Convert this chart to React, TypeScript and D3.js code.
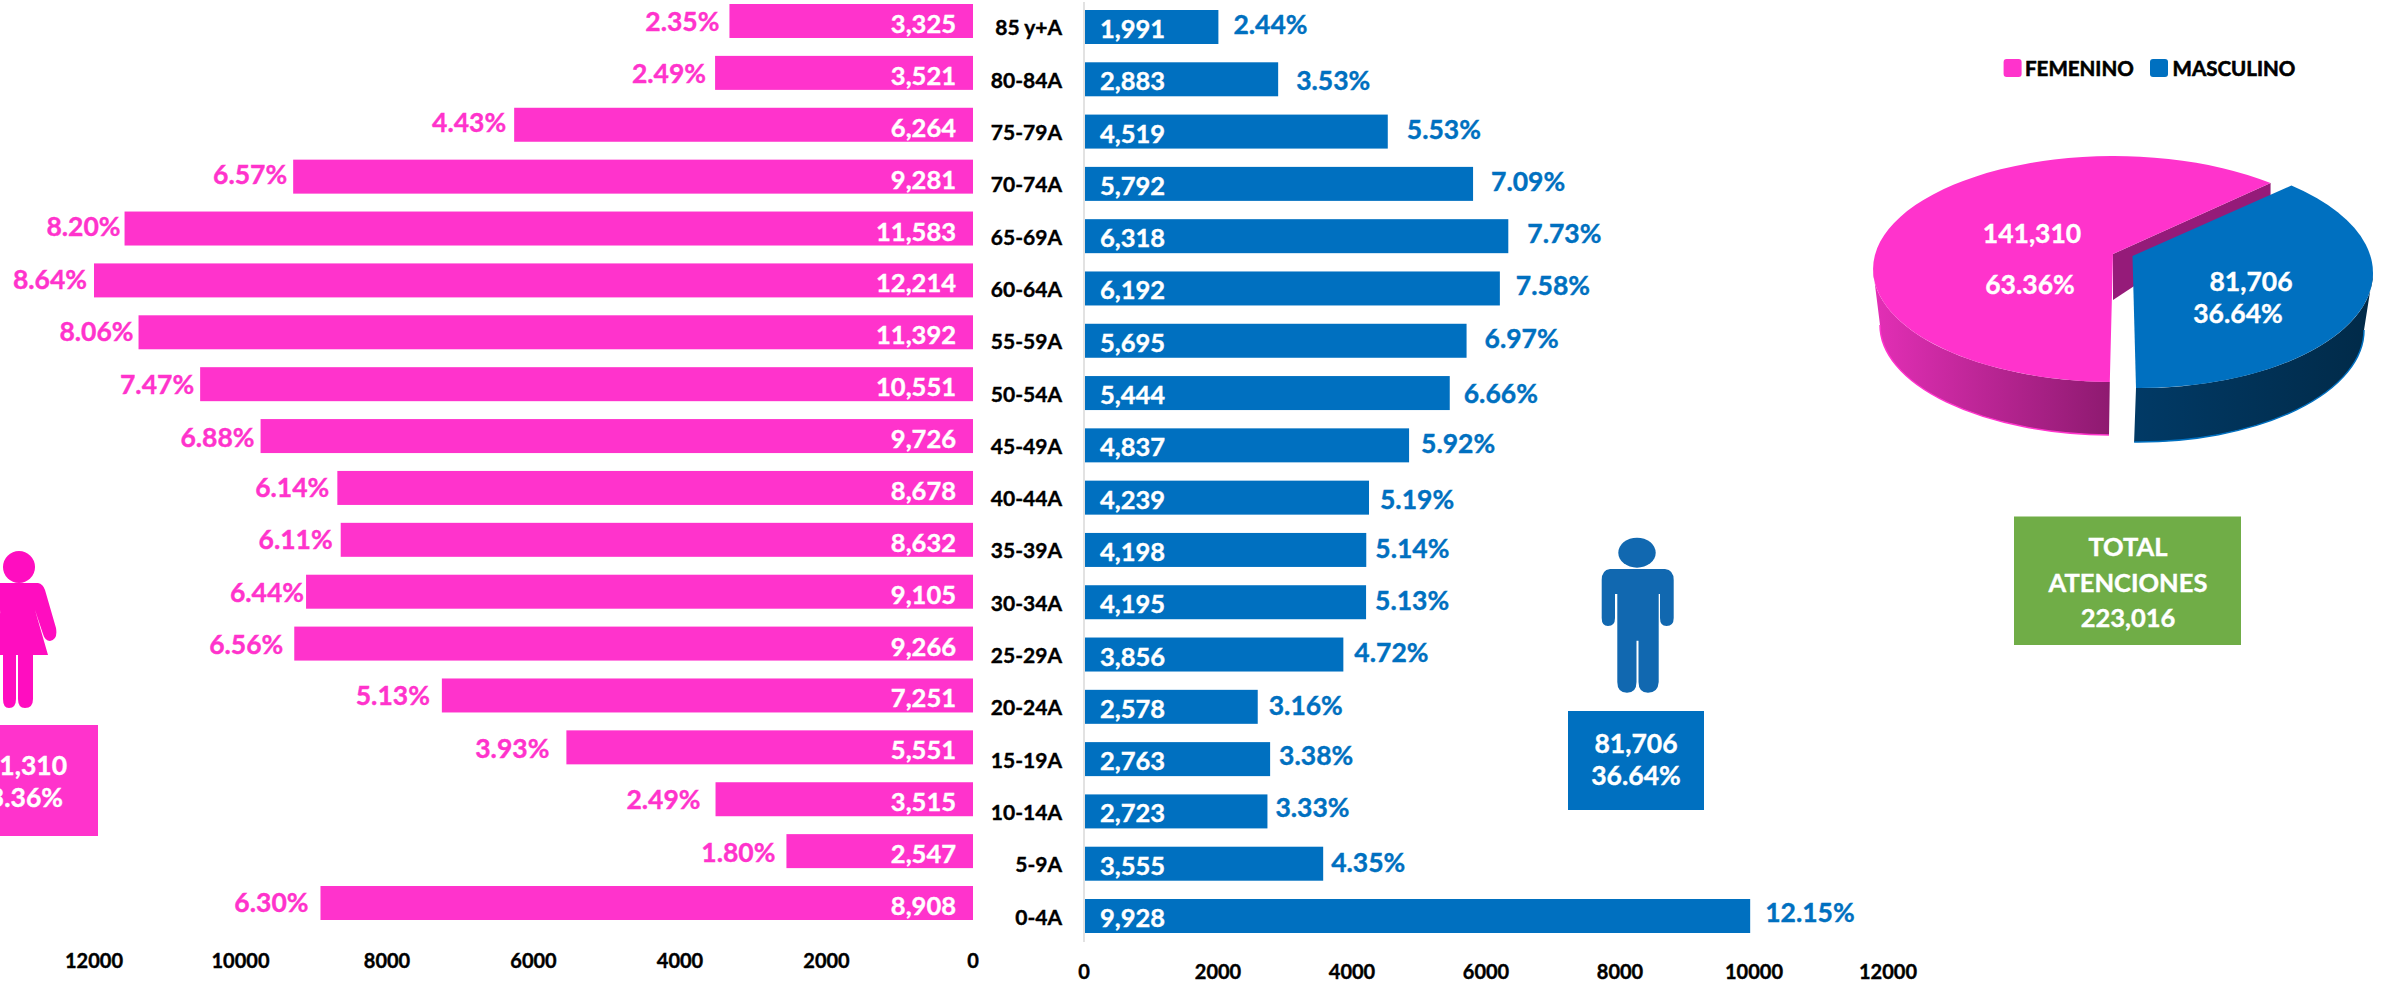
import React from "react";
import * as d3 from "d3";

const categories = ["85 y+A","80-84A","75-79A","70-74A","65-69A","60-64A","55-59A","50-54A","45-49A","40-44A","35-39A","30-34A","25-29A","20-24A","15-19A","10-14A","5-9A","0-4A"];
const femaleValues = [3325,3521,6264,9281,11583,12214,11392,10551,9726,8678,8632,9105,9266,7251,5551,3515,2547,8908];
const femalePct = ["2.35%","2.49%","4.43%","6.57%","8.20%","8.64%","8.06%","7.47%","6.88%","6.14%","6.11%","6.44%","6.56%","5.13%","3.93%","2.49%","1.80%","6.30%"];
const maleValues = [1991,2883,4519,5792,6318,6192,5695,5444,4837,4239,4198,4195,3856,2578,2763,2723,3555,9928];
const malePct = ["2.44%","3.53%","5.53%","7.09%","7.73%","7.58%","6.97%","6.66%","5.92%","5.19%","5.14%","5.13%","4.72%","3.16%","3.38%","3.33%","4.35%","12.15%"];
const axisTicks = [0,2000,4000,6000,8000,10000,12000];
const pieValues = [141310,81706];
const pieCounts = ["141,310","81,706"];
const piePct = ["63.36%","36.64%"];
const legendNames = ["FEMENINO","MASCULINO"];
const totalLines = ["TOTAL","ATENCIONES","223,016"];

// label placement, kept apart from the data (pixels from the bar end / row centre)
const femaleGap = [10,9,8,6,4,7,5,6,6,8,8,2,11,12,17,15,11,12];
const maleGap = [15,18,19,18,19,16,18,14,12,11,9,9,11,11,9,8,8,15];
const femaleNudge = [0,0,-3,-3,-3,-1,-1,0,1,-1,-1,0,0,0,1,0,1,-1];
const maleNudge = [0,4,0,0,0,0,0,3,1,4,1,1,0,1,-1,-1,1,-1];

const PINK = "#FF33CC";
const BLUE = "#0070C0";
const FONT = "Lato, 'Open Sans', sans-serif";
const fmt = d3.format(",");

const xLeft = d3.scaleLinear().domain([0,12000]).range([973,94]).clamp(true);
const xRight = d3.scaleLinear().domain([0,12000]).range([1085,1889]).clamp(true);
const yLeft = d3.scaleBand<string>().domain(categories).range([4,920]).paddingInner(1-34/51.9);
const yRight = d3.scaleBand<string>().domain(categories).range([10,933]).paddingInner(1-34/52.3);

const rad = (d:number)=>d*Math.PI/180;
const warp = (t:number)=>t-rad(5)*Math.cos(t);
const pieGen = d3.pie<number>().sort(null).startAngle(rad(176)).endAngle(rad(176+360));
const [pinkArc,blueArc] = pieGen(pieValues);

type Ell = {cx:number;cy:number;rx:number;ry:number};
const pt = (e:Ell,a:number)=>[e.cx+e.rx*Math.sin(a),e.cy-e.ry*Math.cos(a)];
const s = (p:number[])=>`${p[0].toFixed(1)},${p[1].toFixed(1)}`;

const pinkTop:Ell={cx:2114,cy:269,rx:241,ry:113};
const pinkBot:Ell={cx:2113,cy:325,rx:233,ry:110};
const blueTop:Ell={cx:2140,cy:273,rx:233,ry:115};
const blueBot:Ell={cx:2138,cy:330,rx:226,ry:112};
const pinkApex=[2113,254];
const blueApex=[2132.5,256];

const pinkStart=pt(pinkTop,warp(pinkArc.startAngle));
const pinkEnd=pt(pinkTop,warp(pinkArc.endAngle));
const pinkFace=`M${s(pinkApex)}L${s(pinkEnd)}A${pinkTop.rx},${pinkTop.ry} 0 1 0 ${s(pinkStart)}Z`;
const pinkLeftTop=pt(pinkTop,rad(270));
const pinkLeftBot=pt(pinkBot,rad(270));
const pinkStartBot=pt(pinkBot,warp(pinkArc.startAngle));
const pinkRim=`M${s(pinkStartBot)}A${pinkBot.rx},${pinkBot.ry} 0 0 1 ${s(pinkLeftBot)}`;
const pinkSide=`M${s(pinkLeftTop)}A${pinkTop.rx},${pinkTop.ry} 0 0 0 ${s(pinkStart)}L${s(pinkStartBot)}A${pinkBot.rx},${pinkBot.ry} 0 0 1 ${s(pinkLeftBot)}Z`;
const pinkWall=`M${s(pinkApex)}L${s(pinkEnd)}L${pinkEnd[0]},${pinkEnd[1]+13}L${pinkApex[0]},${pinkApex[1]+46}Z`;

const blueStart=pt(blueTop,warp(blueArc.startAngle));
const blueEnd=pt(blueTop,warp(blueArc.endAngle));
const blueFace=`M${s(blueApex)}L${s(blueStart)}A${blueTop.rx},${blueTop.ry} 0 0 1 ${s(blueEnd)}Z`;
const blueRightTop=pt(blueTop,rad(90));
const blueRightBot=pt(blueBot,rad(90));
const blueEndBot=pt(blueBot,warp(blueArc.endAngle));
const blueRim=`M${s(blueRightBot)}A${blueBot.rx},${blueBot.ry} 0 0 1 ${s(blueEndBot)}`;
const blueSide=`M${s(blueRightTop)}A${blueTop.rx},${blueTop.ry} 0 0 1 ${s(blueEnd)}L${s(blueEndBot)}A${blueBot.rx},${blueBot.ry} 0 0 0 ${s(blueRightBot)}Z`;

const femaleIcon="M-6,583 L38,583 Q43,584 45,590 L56,628 Q58,640 50,641 Q45,641 43,634 L35,610 L48,655 L33,655 L33,699 Q33,708 25,708 Q18,708 18,699 L18,655 L16,655 L16,699 Q16,708 9,708 Q3,708 3,699 L3,655 L-12,655 L1,610 L-7,634 Z";
const maleIcon="M1610,569 L1665,569 Q1673.7,570 1673.7,580 L1673.7,618 Q1673.7,626 1666.5,626 Q1660,626 1660,618 L1660,594 L1658.7,594 L1658.7,682 Q1658,692.7 1648,692.7 Q1638.5,692.7 1638.5,682 L1638.5,640.7 L1636.5,640.7 L1636.5,682 Q1636.5,692.7 1627,692.7 Q1617.3,692.7 1617.3,682 L1617.3,594 L1615,594 L1615,618 Q1615,626 1608,626 Q1601.7,626 1601.7,618 L1601.7,580 Q1601.7,570 1610,569Z";

const T=(p:any)=><text fontFamily={FONT} fontWeight={700} dominantBaseline="central" stroke={p.fill} strokeWidth={0.4} {...p}/>;

export default function App(){
  return (
    <svg width={2389} height={983} viewBox="0 0 2389 983" style={{position:"absolute",left:0,top:0,background:"#fff"}}>
      <defs>
        <linearGradient id="pinkSide" x1="0" x2="1" y1="0" y2="0">
          <stop offset="0" stopColor="#E32FB6"/><stop offset="1" stopColor="#8E1A70"/>
        </linearGradient>
        <linearGradient id="blueSide" x1="0" x2="1" y1="0" y2="0">
          <stop offset="0" stopColor="#013A66"/><stop offset="1" stopColor="#012A48"/>
        </linearGradient>
      </defs>

      <line x1={xRight(0)-1} x2={xRight(0)-1} y1={2} y2={942} stroke="#D9D9D9" strokeWidth={1.5}/>

      {categories.map((c,i)=>(
        <g key={c}>
          <rect x={xLeft(femaleValues[i])} y={yLeft(c)} width={xLeft(0)-xLeft(femaleValues[i])} height={yLeft.bandwidth()} fill={PINK}/>
          <T x={956} y={yLeft(c)!+yLeft.bandwidth()/2+2} fill="#fff" fontSize={25.5} textAnchor="end">{fmt(femaleValues[i])}</T>
          <T x={xLeft(femaleValues[i])-femaleGap[i]} y={yLeft(c)!+yLeft.bandwidth()/2+femaleNudge[i]} fill={PINK} fontSize={26.5} textAnchor="end">{femalePct[i]}</T>
          <T x={1062} y={yRight(c)!+yRight.bandwidth()/2} fill="#000" fontSize={21} textAnchor="end">{c}</T>
          <rect x={xRight(0)} y={yRight(c)} width={xRight(maleValues[i])-xRight(0)} height={yRight.bandwidth()} fill={BLUE}/>
          <T x={1100} y={yRight(c)!+yRight.bandwidth()/2+1} fill="#fff" fontSize={25.5}>{fmt(maleValues[i])}</T>
          <T x={xRight(maleValues[i])+maleGap[i]} y={yRight(c)!+yRight.bandwidth()/2-3+maleNudge[i]} fill={BLUE} fontSize={26.5}>{malePct[i]}</T>
        </g>
      ))}

      {axisTicks.map(t=>(
        <g key={t}>
          <T x={xLeft(t)} y={960} fontSize={20} fill="#000" textAnchor="middle">{t}</T>
          <T x={xRight(t)-1} y={970.5} fontSize={20} fill="#000" textAnchor="middle">{t}</T>
        </g>
      ))}

      <ellipse cx={19} cy={567} rx={16} ry={16} fill="#FF0DC0"/>
      <path d={femaleIcon} fill="#FF0DC0"/>
      <rect x={-38} y={725} width={136} height={111} fill={PINK}/>
      <T x={67} y={765} fontSize={26.5} fill="#fff" textAnchor="end">{pieCounts[0]}</T>
      <T x={63} y={797} fontSize={26.5} fill="#fff" textAnchor="end">{piePct[0]}</T>

      <ellipse cx={1637} cy={552.7} rx={18.7} ry={15} fill="#1168B0"/>
      <path d={maleIcon} fill="#1168B0"/>
      <rect x={1568} y={711} width={136} height={99} fill={BLUE}/>
      <T x={1636} y={743} fontSize={26.5} fill="#fff" textAnchor="middle">{pieCounts[1]}</T>
      <T x={1636} y={775} fontSize={26.5} fill="#fff" textAnchor="middle">{piePct[1]}</T>

      <path d={pinkSide} fill="url(#pinkSide)"/>
      <path d={pinkRim} fill="none" stroke={PINK} strokeWidth={1.5}/>
      <path d={pinkWall} fill="#951B79"/>
      <path d={pinkFace} fill={PINK}/>
      <path d={blueSide} fill="url(#blueSide)"/>
      <path d={blueRim} fill="none" stroke={BLUE} strokeWidth={1.5}/>
      <path d={blueFace} fill={BLUE}/>
      <T x={2032} y={233} fontSize={26.5} fill="#fff" textAnchor="middle">{pieCounts[0]}</T>
      <T x={2030} y={284} fontSize={26.5} fill="#fff" textAnchor="middle">{piePct[0]}</T>
      <T x={2251} y={281} fontSize={26.5} fill="#fff" textAnchor="middle">{pieCounts[1]}</T>
      <T x={2238} y={313} fontSize={26.5} fill="#fff" textAnchor="middle">{piePct[1]}</T>

      <rect x={2003.6} y={59} width={18} height={18} rx={3} fill={PINK}/>
      <T x={2025} y={68} fontSize={20.5} fill="#000" strokeWidth={0.6}>{legendNames[0]}</T>
      <rect x={2150} y={59} width={18} height={18} rx={3} fill={BLUE}/>
      <T x={2172.6} y={68} fontSize={20.5} fill="#000" strokeWidth={0.6}>{legendNames[1]}</T>

      <rect x={2014} y={516.5} width={227} height={128.5} fill="#70AD47"/>
      {totalLines.map((l,i)=>(
        <T key={l} x={2128} y={546+i*35.5} fontSize={25.5} fill="#fff" textAnchor="middle">{l}</T>
      ))}
    </svg>
  );
}
